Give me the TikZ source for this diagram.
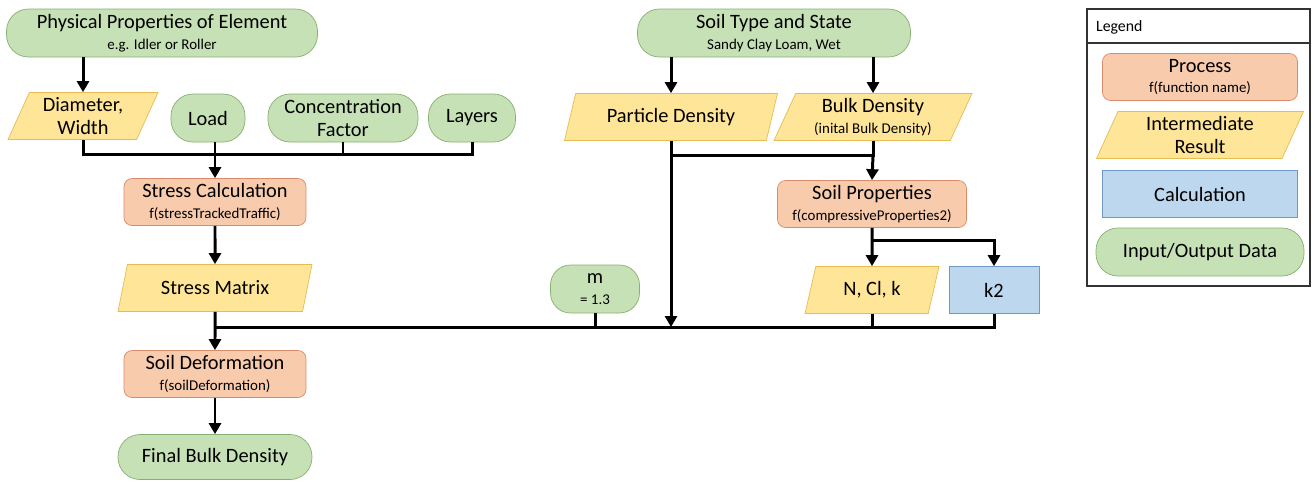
\documentclass[tikz,border=0pt]{standalone}
\usepackage{fontspec}
\setmainfont{Carlito}
\usetikzlibrary{shapes.geometric,arrows.meta,calc}

\definecolor{iofill}{HTML}{C7E1B6}
\definecolor{iodraw}{HTML}{86B06E}
\definecolor{procfill}{HTML}{F8CBAD}
\definecolor{procdraw}{HTML}{D88C6C}
\definecolor{resfill}{HTML}{FFE597}
\definecolor{resdraw}{HTML}{E6BC55}
\definecolor{calcfill}{HTML}{BDD7EE}
\definecolor{calcdraw}{HTML}{6F98C4}

\newcommand{\sub}[1]{\\[-1pt]{\fontsize{8.5}{9}\selectfont #1}}

\begin{document}
\begin{tikzpicture}[x=0.02cm,y=-0.02cm,
    every node/.style={font=\fontsize{11.6}{12.8}\selectfont,align=center,inner sep=1pt},
    io/.style={draw=iodraw,fill=iofill,rounded corners=0.44cm,minimum height=0.96cm},
    proc/.style={draw=procdraw,fill=procfill,rounded corners=0.16cm,minimum width=3.64cm,minimum height=0.94cm},
    res/.style={draw=resdraw,fill=resfill,trapezium,trapezium left angle=62,trapezium right angle=118,
        trapezium stretches body,minimum height=0.94cm},
    calcbox/.style={draw=calcdraw,fill=calcfill,minimum height=0.94cm},
    line/.style={line width=1.7pt},
    arr/.style={line width=1.7pt,-{Triangle[length=0.22cm,width=0.24cm]}}]
    \useasboundingbox (0,0) rectangle (1314,481);

    % left branch
    \node[io,minimum width=6.22cm] (phys) at (162,33) {Physical Properties of Element\sub{e.g. Idler or Roller}};
    \node[res,minimum width=3.0cm] (dia) at (83,116) {Diameter,\\Width};
    \node[io,minimum width=1.48cm] (load) at (208,118) {Load};
    \node[io,minimum width=3.0cm] (conc) at (343,118) {Concentration\\Factor};
    \node[io,minimum width=1.74cm] (lay) at (472,118) {Layers};
    \node[proc] (stress) at (215,202) {Stress Calculation\sub{f(stressTrackedTraffic)}};
    \node[res,minimum width=3.88cm] (smat) at (215,288) {Stress Matrix};
    \node[proc] (deform) at (215,374) {Soil Deformation\sub{f(soilDeformation)}};
    \node[io,minimum width=3.88cm,minimum height=0.9cm] (final) at (215,457) {Final Bulk Density};

    % right branch
    \node[io,minimum width=5.46cm] (soil) at (774,33) {Soil Type and State\sub{Sandy Clay Loam, Wet}};
    \node[res,minimum width=4.26cm] (part) at (671,117) {Particle Density};
    \node[res,minimum width=3.96cm] (bulk) at (873,117) {Bulk Density\sub{(inital Bulk Density)}};
    \node[proc,minimum width=3.78cm] (props) at (872,204) {Soil Properties\sub{f(compressiveProperties2)}};
    \node[res,minimum width=2.68cm] (ncl) at (872,290) {N, Cl, k};
    \node[calcbox,minimum width=1.8cm] (k2) at (994,290) {k2};
    \node[io,minimum width=1.78cm,rounded corners=0.4cm] (m) at (595,289) {m\sub{= 1.3}};

    \coordinate (busA) at (215,154);
    \coordinate (busB) at (215,327);
    \coordinate (busC) at (671,155);
    \coordinate (split) at (872,240);

    \draw[arr] (dia.north |- phys.south) -- (dia.north);
    \draw[line] (dia.south) |- (busA -| lay.south) -- (lay.south) (load.south -| busA) -- (busA) (conc.south) -- (conc.south |- busA);
    \draw[arr] (busA) -- (stress.north);
    \draw[arr] (stress.south) -- (smat.north);
    \draw[arr] (smat.south) -- (deform.north);
    \draw[arr] (deform.south) -- (final.north);

    \draw[arr] (part.north |- soil.south) -- (part.north);
    \draw[arr] (bulk.north |- soil.south) -- (bulk.north);
    \draw[arr] (part.south) -- (part.south |- busB);
    \draw[line] (busC) -| (bulk.south);
    \draw[arr] (bulk.south |- busC) -- (props.north);
    \draw[arr] (props.south) -- (ncl.north);
    \draw[arr] (split) -| (k2.north);
    \draw[line] (busB) -| (k2.south) (ncl.south) -- (ncl.south |- busB) (m.south) -- (m.south |- busB);

    % legend
    \draw[line width=0.8pt,draw=black!80] (1087,9) rectangle (1310,286) (1087,43) -- (1310,43);
    \node[anchor=west,font=\fontsize{9}{10}\selectfont] (legtitle) at (1094,27) {Legend};
    \node[proc,minimum width=3.9cm] (legproc) at (1200,77) {Process\sub{f(function name)}};
    \node[res,minimum width=4.14cm] (legres) at (1200,135) {Intermediate\\Result};
    \node[calcbox,minimum width=3.9cm] (legcalc) at (1200,194) {Calculation};
    \node[io,minimum width=4.16cm] (legio) at (1200,252) {Input/Output Data};
\end{tikzpicture}
\end{document}
